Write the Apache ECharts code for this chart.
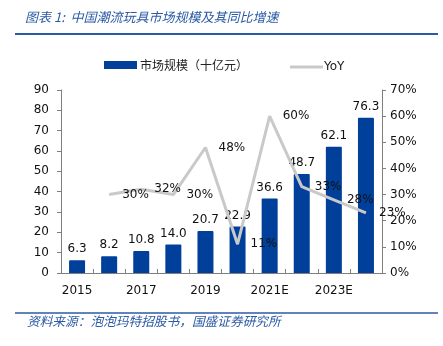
<!DOCTYPE html>
<html>
<head>
<meta charset="utf-8">
<script src="https://cdn.jsdelivr.net/npm/echarts@6/dist/echarts.min.js"></script>
<style>
html,body{margin:0;padding:0;background:#fff;}
#chart{width:443px;height:346px;}
</style>
</head>
<body>
<div id="chart"></div>
<script>
// 中国潮流玩具市场规模（十亿元）及同比增速
const years = ['2015', '2016', '2017', '2018', '2019', '2020', '2021E', '2022E', '2023E', '2024E'];
const marketSize = [6.3, 8.2, 10.8, 14.0, 20.7, 22.9, 36.6, 48.7, 62.1, 76.3];
const yoy = [null, 30, 32, 30, 48, 11, 60, 33, 28, 23];
const leftTicks = { min: 0, max: 90, interval: 10 };
const rightTicks = { min: 0, max: 70, interval: 10 };

const titleText = '图表 1:  中国潮流玩具市场规模及其同比增速';
const sourceText = '资料来源：泡泡玛特招股书，国盛证券研究所';

const BLUE = '#003f9a';
const GREY = '#c9c9c9';
const AXIS = '#7f7f7f';
const FONT = 'DejaVu Sans';
const CJK = 'Noto Sans CJK SC';

const chart = echarts.init(document.getElementById('chart'), null, { renderer: 'canvas' });

chart.setOption({
  animation: false,
  backgroundColor: '#fff',
  graphic: [
    {
      type: 'text', left: 25, top: 11,
      style: { text: titleText, font: 'italic 13px "' + CJK + '"', fill: '#2b5aa6' }
    },
    {
      type: 'line', shape: { x1: 15, y1: 34, x2: 438, y2: 34 },
      style: { stroke: '#2b5aa6', lineWidth: 2 }
    },
    {
      type: 'line', shape: { x1: 15, y1: 313, x2: 438, y2: 313 },
      style: { stroke: '#2b5aa6', lineWidth: 1.5 }
    },
    {
      type: 'text', left: 27, top: 315,
      style: { text: sourceText, font: 'italic 12.7px "' + CJK + '"', fill: '#2b5aa6' }
    }
  ],
  legend: [
    {
      top: 54,
      left: 99,
      itemWidth: 33,
      itemHeight: 8,
      textStyle: { fontFamily: CJK, fontSize: 12, color: '#222', padding: [0, 0, 0, -2] },
      data: [{ name: '市场规模（十亿元）', icon: 'rect' }]
    },
    {
      top: 56,
      left: 285,
      itemWidth: 33,
      itemHeight: 3,
      textStyle: { fontFamily: FONT, fontSize: 12, color: '#222', padding: [0, 0, 0, -4] },
      data: [{ name: 'YoY', icon: 'rect', itemStyle: { color: GREY } }]
    }
  ],
  grid: { left: 61, right: 61, top: 90, bottom: 73 },
  xAxis: {
    type: 'category',
    data: years,
    boundaryGap: true,
    axisLine: { lineStyle: { color: AXIS } },
    axisTick: { show: true, inside: true, length: 4, interval: 0, lineStyle: { color: AXIS } },
    axisLabel: { interval: 1, color: '#111', fontFamily: FONT, fontSize: 12, margin: 12 }
  },
  yAxis: [
    {
      type: 'value',
      min: leftTicks.min, max: leftTicks.max, interval: leftTicks.interval,
      axisLine: { show: true, lineStyle: { color: AXIS } },
      axisTick: { show: true, length: 4, lineStyle: { color: AXIS } },
      splitLine: { show: false },
      axisLabel: { color: '#111', fontFamily: FONT, fontSize: 12, margin: 12 }
    },
    {
      type: 'value',
      min: rightTicks.min, max: rightTicks.max, interval: rightTicks.interval,
      axisLine: { show: true, lineStyle: { color: AXIS } },
      axisTick: { show: true, length: 4, lineStyle: { color: AXIS } },
      splitLine: { show: false },
      axisLabel: { color: '#111', fontFamily: FONT, fontSize: 12, margin: 8, formatter: '{value}%' }
    }
  ],
  series: [
    {
      name: '市场规模（十亿元）',
      type: 'bar',
      data: marketSize,
      barWidth: 16,
      itemStyle: { color: BLUE, borderRadius: [1, 1, 0, 0] },
      label: {
        show: true, position: 'top', distance: 5,
        color: '#111', fontFamily: FONT, fontSize: 12,
        formatter: p => p.value.toFixed(1)
      }
    },
    {
      name: 'YoY',
      type: 'line',
      yAxisIndex: 1,
      data: yoy,
      symbol: 'circle',
      symbolSize: 0.1,
      showSymbol: true,
      lineStyle: { color: GREY, width: 3 },
      itemStyle: { color: GREY },
      label: {
        show: true, position: 'right', distance: 13,
        color: '#111', fontFamily: FONT, fontSize: 12,
        formatter: p => p.value + '%'
      },
      labelLayout: { hideOverlap: false },
      z: 3
    }
  ]
});
</script>
</body>
</html>
